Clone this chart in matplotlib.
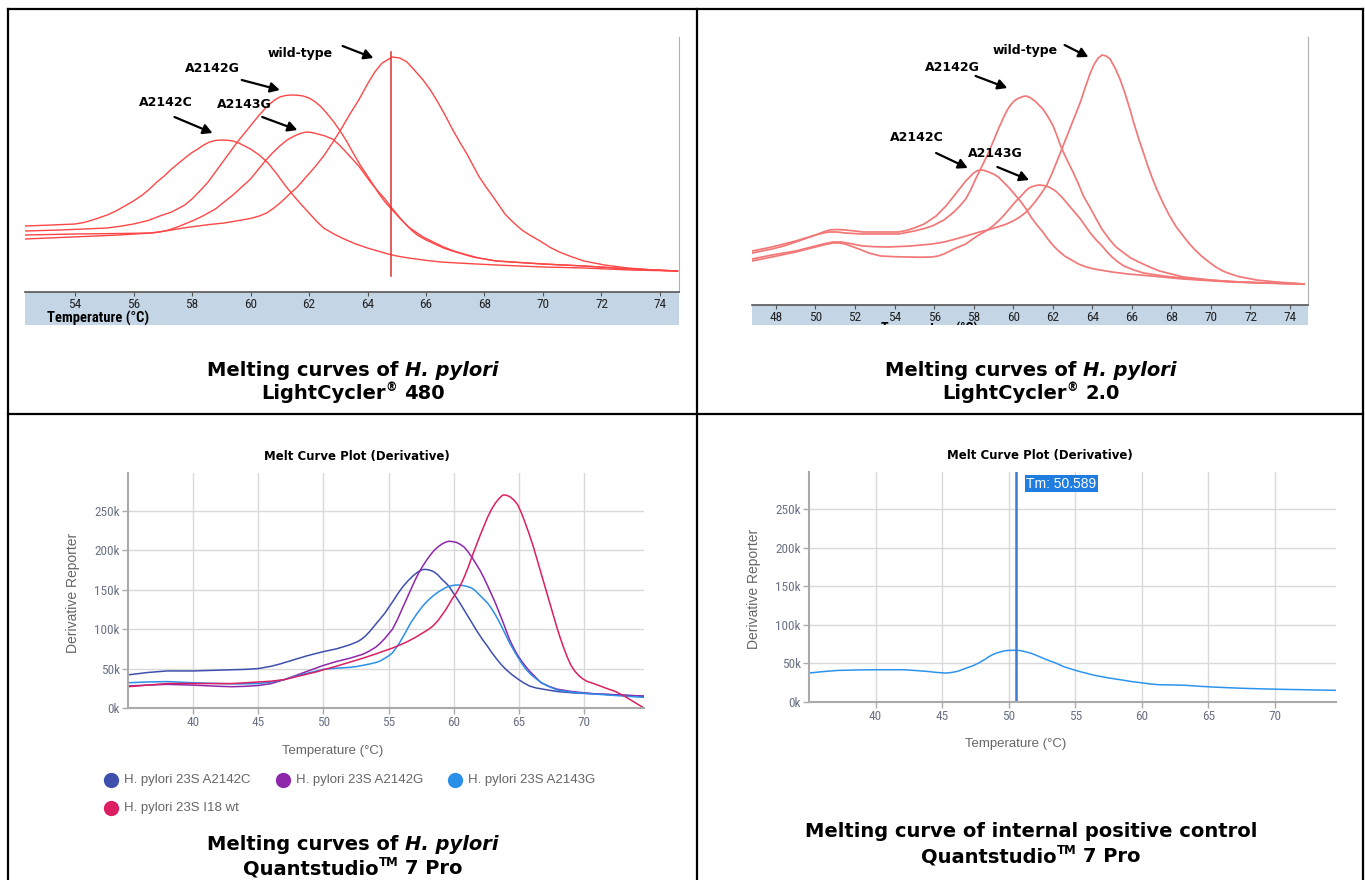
import matplotlib.pyplot as plt
from matplotlib.lines import Line2D
from matplotlib.ticker import FuncFormatter
import numpy as np

W, H = 1365, 880

# ---------------- LightCycler 480 (temperature degC, -dF/dT in arbitrary units)
lc480_ticks = [54, 56, 58, 60, 62, 64, 66, 68, 70, 72, 74]
lc480_wt = [(52.3, 53), (53.5, 54.5), (54.3, 55.5), (55.5, 57), (56.6, 59), (57.2, 61.5), (57.7, 64),
            (58.2, 66), (58.6, 67.5), (59.1, 69), (59.5, 71), (60.0, 73.5), (60.3, 76), (60.55, 79),
            (60.8, 84), (61.05, 90), (61.3, 97), (61.6, 105), (61.9, 115), (62.2, 125), (62.5, 136),
            (62.8, 149), (63.1, 163), (63.4, 178), (63.7, 192), (64.0, 208), (64.25, 220), (64.5, 229),
            (64.85, 235), (65.1, 234), (65.35, 230), (65.6, 222), (65.9, 212), (66.15, 202), (66.4, 190),
            (66.65, 177), (66.9, 163), (67.15, 150), (67.4, 138), (67.6, 127), (67.8, 116), (68.05, 105),
            (68.3, 95), (68.5, 86.5), (68.7, 78), (68.9, 72), (69.1, 66.5), (69.3, 61.5), (69.6, 56),
            (69.9, 51), (70.25, 44.5), (70.6, 39.5), (71.0, 35), (71.4, 31), (72.1, 27), (72.9, 24),
            (73.8, 22), (74.6, 21)]
lc480_a2142c = [(52.3, 66), (53.2, 67), (54.0, 68), (54.3, 69.5), (54.6, 72), (54.85, 74.5), (55.1, 77),
                (55.4, 81), (55.7, 86), (56.0, 91), (56.3, 97), (56.55, 103), (56.8, 110), (57.05, 116),
                (57.3, 123), (57.55, 129), (57.8, 135), (58.0, 139.5), (58.2, 143), (58.4, 147), (58.6, 150),
                (58.8, 151.5), (59.0, 152), (59.2, 151.8), (59.4, 151), (59.6, 149), (59.8, 146), (60.0, 143),
                (60.3, 137), (60.6, 129), (60.9, 118), (61.2, 106), (61.45, 97), (61.75, 87), (62.0, 79),
                (62.25, 71), (62.5, 64), (62.85, 58), (63.2, 53), (63.6, 48), (64.0, 44), (64.35, 41),
                (64.7, 38), (65.0, 36), (65.4, 34), (65.9, 32), (66.5, 30), (67.4, 28.5), (68.4, 27),
                (70.0, 25), (71.4, 24), (73.0, 22), (74.6, 21)]
lc480_a2142g = [(52.3, 61), (53.5, 62), (55.1, 64), (55.6, 66), (56.0, 68), (56.5, 71.5), (56.9, 76),
                (57.3, 80), (57.5, 83), (57.75, 87), (58.0, 93), (58.3, 102), (58.55, 110), (58.8, 120),
                (59.05, 130), (59.3, 140), (59.55, 150), (59.8, 159), (60.05, 168), (60.3, 177), (60.5, 183.5),
                (60.7, 189), (60.85, 192.5), (61.0, 195), (61.2, 196.5), (61.4, 197), (61.6, 196.8),
                (61.8, 196), (62.0, 194), (62.2, 190.5), (62.4, 185.5), (62.6, 179), (62.85, 170), (63.1, 159.5),
                (63.3, 150), (63.5, 139.5), (63.75, 127), (64.0, 116), (64.2, 107), (64.4, 98), (64.6, 90),
                (64.85, 82), (65.1, 74), (65.3, 68), (65.5, 62), (65.7, 57), (66.0, 52), (66.3, 48),
                (66.6, 44), (66.9, 41), (67.25, 38), (67.6, 35), (68.0, 33), (68.4, 31), (69.2, 29.5),
                (70.0, 28), (71.4, 26), (73.0, 23), (74.6, 21)]
lc480_a2143g = [(52.3, 57), (54.0, 58), (55.5, 58.5), (56.6, 59), (56.9, 60), (57.2, 62), (57.5, 65),
                (57.75, 68), (58.0, 71), (58.3, 75), (58.55, 79), (58.8, 83), (59.1, 90), (59.4, 97),
                (59.7, 105), (60.0, 113), (60.25, 122), (60.5, 131), (60.75, 139), (61.0, 146), (61.25, 152),
                (61.5, 156), (61.7, 158.5), (61.9, 160), (62.1, 159.5), (62.3, 158), (62.55, 156), (62.8, 153),
                (63.0, 148), (63.2, 142), (63.45, 134), (63.7, 126), (63.9, 118), (64.1, 110), (64.35, 101),
                (64.6, 93), (64.8, 85), (65.0, 78), (65.2, 71), (65.4, 65), (65.65, 60), (65.9, 55),
                (66.25, 50), (66.6, 45), (66.95, 41), (67.3, 38), (67.8, 34), (68.4, 31), (69.2, 29.5),
                (70.0, 28), (71.4, 26), (73.0, 23), (74.6, 21)]
lc480_tm = 64.8
# label, text pos, arrow tail, arrow head
lc480_labels = [("wild-type", (61.7, 238), (63.15, 246), (64.2, 234)),
                ("A2142G", (58.7, 224), (59.7, 212), (61.0, 202)),
                ("A2142C", (57.1, 190), (57.4, 175), (58.7, 159)),
                ("A2143G", (59.8, 187), (60.4, 175), (61.6, 162))]

# ---------------- LightCycler 2.0
lc20_ticks = [48, 50, 52, 54, 56, 58, 60, 62, 64, 66, 68, 70, 72, 74]
lc20_wt = [(46.8, 46), (47.8, 50), (49.0, 54), (49.5, 56.5), (50.0, 59), (50.5, 61.5), (50.9, 63), (51.3, 63),
           (51.6, 62), (52.0, 60.5), (52.4, 59), (53.0, 58.3), (53.7, 58), (54.8, 59), (55.9, 61), (56.5, 63),
           (57.1, 66), (57.7, 69.5), (58.3, 73), (58.8, 75.5), (59.2, 78), (59.6, 80.5), (60.0, 84),
           (60.3, 87.5), (60.6, 92), (60.85, 97), (61.1, 103), (61.4, 111), (61.7, 120), (61.95, 131),
           (62.2, 143), (62.5, 158), (62.8, 173), (63.1, 188), (63.4, 203), (63.65, 218), (63.9, 232),
           (64.1, 241), (64.3, 247), (64.5, 250), (64.7, 249), (64.9, 246), (65.15, 237), (65.4, 226),
           (65.65, 212), (65.9, 196), (66.1, 182), (66.35, 166), (66.6, 151.5), (66.8, 139.5), (67.05, 126),
           (67.3, 114), (67.6, 101), (67.9, 89.5), (68.25, 78), (68.6, 69), (68.9, 61.5), (69.2, 55),
           (69.55, 48.5), (69.9, 43), (70.25, 38), (70.6, 34), (71.0, 31), (71.4, 28.5), (72.3, 25),
           (73.3, 23), (74.7, 21)]
lc20_a2143g = [(46.8, 44), (47.8, 48), (49.0, 53), (49.5, 55.5), (50.0, 58), (50.5, 60.5), (50.9, 62),
               (51.2, 62), (51.5, 61), (51.85, 58.5), (52.2, 56), (52.7, 52), (53.3, 49), (54.0, 48.3),
               (54.6, 48), (55.3, 47.8), (55.9, 48), (56.2, 49), (56.5, 51), (56.75, 53.5), (57.0, 56),
               (57.3, 58.5), (57.6, 61), (57.85, 64.5), (58.1, 68), (58.4, 71.5), (58.7, 75), (59.0, 79.5),
               (59.25, 84), (59.5, 89), (59.8, 96), (60.1, 103), (60.4, 109), (60.6, 113.5), (60.8, 117),
               (61.05, 119), (61.3, 120), (61.55, 119.5), (61.8, 118), (62.0, 116), (62.2, 113), (62.5, 107),
               (62.8, 100), (63.1, 93), (63.4, 86), (63.65, 79), (63.9, 72), (64.2, 65), (64.5, 59),
               (64.75, 53), (65.0, 48), (65.3, 43), (65.6, 39), (66.1, 35), (66.6, 32), (67.6, 29),
               (69.0, 26), (70.5, 24), (72.5, 22), (74.7, 21)]
lc20_a2142c = [(46.8, 52), (47.8, 56), (48.4, 59), (49.0, 63), (49.5, 66.5), (50.0, 70), (50.4, 73),
               (50.7, 75), (51.1, 75.5), (51.5, 75), (52.0, 74), (52.4, 73), (53.3, 73), (54.2, 73),
               (54.6, 74.5), (55.0, 77), (55.25, 79), (55.5, 81), (55.8, 85), (56.1, 89), (56.35, 94),
               (56.6, 99), (56.8, 104), (57.0, 109), (57.2, 114), (57.4, 119), (57.6, 124), (57.8, 128),
               (58.0, 132), (58.2, 134.5), (58.45, 135), (58.7, 133.5), (59.0, 131), (59.25, 128),
               (59.5, 123), (59.8, 117), (60.1, 110), (60.4, 103), (60.65, 96), (60.9, 88), (61.2, 80),
               (61.5, 73), (61.75, 66), (62.0, 60), (62.3, 54), (62.6, 49), (62.95, 45), (63.3, 41),
               (63.7, 38), (64.1, 36), (65.0, 33), (65.8, 31), (67.0, 29), (68.6, 26), (71.0, 23), (74.7, 21)]
lc20_a2142g = [(46.8, 54), (47.8, 58), (48.4, 61), (49.0, 64), (49.5, 67), (50.0, 70), (50.4, 72),
               (50.7, 73), (51.1, 73), (51.5, 72), (52.4, 71), (53.3, 71), (54.2, 71), (54.6, 72.5),
               (55.0, 74), (55.5, 76.5), (55.9, 79), (56.2, 82), (56.5, 85), (56.75, 89), (57.0, 93),
               (57.3, 99), (57.6, 106), (57.85, 115), (58.1, 126), (58.4, 138), (58.7, 150), (59.0, 164),
               (59.25, 176), (59.5, 187), (59.7, 195), (59.85, 199.5), (60.0, 203), (60.15, 205.5),
               (60.3, 207), (60.5, 208.5), (60.65, 209), (60.85, 207.5), (61.1, 204), (61.3, 200),
               (61.5, 196), (61.75, 188.5), (62.0, 180), (62.2, 170), (62.4, 159), (62.7, 146), (63.0, 134),
               (63.3, 121), (63.55, 109), (63.9, 97), (64.2, 86), (64.5, 75.5), (64.85, 66), (65.2, 58),
               (65.6, 52), (65.95, 47), (66.35, 43), (66.9, 38), (67.4, 34), (68.0, 31), (68.6, 28),
               (70.0, 25), (71.4, 23), (73.0, 22), (74.7, 21)]
lc20_labels = [("wild-type", (60.6, 255), (62.6, 260), (63.8, 248)),
               ("A2142G", (56.9, 238), (58.1, 229), (59.7, 217)),
               ("A2142C", (55.15, 168), (56.1, 152), (57.7, 137)),
               ("A2143G", (59.1, 152), (59.2, 138), (60.8, 125))]

# ---------------- QuantStudio 7 Pro (temperature degC, derivative reporter in thousands)
qs_xticks = [40, 45, 50, 55, 60, 65, 70]
qs_yticks = [0, 50000, 100000, 150000, 200000, 250000]
qs_names = ["H. pylori 23S A2142C", "H. pylori 23S A2142G", "H. pylori 23S A2143G", "H. pylori 23S I18 wt"]
qs_colors = ["#3f4fae", "#8e27ab", "#2a8fe8", "#dc1f62"]
qs_a2142c = [(35, 42), (36.5, 45), (38, 47), (40, 47), (42, 48), (43, 48.5), (44, 49), (45, 50), (46, 53),
             (46.7, 56), (47.3, 59), (48.0, 62.5), (48.7, 66), (49.4, 69), (50, 71.5), (51, 75), (51.5, 77.5),
             (52.0, 80), (52.3, 82), (52.6, 84), (52.9, 87), (53.2, 91), (53.55, 97), (53.9, 104), (54.3, 112),
             (54.7, 120), (55.05, 128.5), (55.4, 137), (55.75, 146), (56.1, 154), (56.5, 161.5), (56.9, 168),
             (57.25, 172.5), (57.6, 175.5), (57.85, 175.8), (58.1, 175), (58.3, 174), (58.5, 172.5),
             (58.8, 168.5), (59.1, 163), (59.4, 158.5), (59.65, 154), (60.0, 145), (60.4, 135),
             (60.75, 125.5), (61.1, 116), (61.45, 106.5), (61.8, 97), (62.2, 87), (62.6, 78), (62.95, 69.5),
             (63.3, 62), (63.65, 55), (64.0, 49), (64.45, 42.5), (64.9, 37), (65.35, 32), (65.8, 28),
             (66.3, 25.5), (66.8, 24), (67.9, 21), (69.3, 19), (70.8, 18), (72.7, 16.5), (74.6, 15)]
qs_a2142g = [(35, 28), (36.5, 29), (38, 30), (40, 29), (42, 27.5), (43, 27), (44, 27.5), (45, 28.5), (46, 31),
             (46.5, 33.5), (47, 36), (47.5, 39), (48, 42), (48.5, 45), (49, 48), (49.5, 51), (50, 54), (51, 59),
             (52, 63), (52.5, 65.5), (53, 68), (53.5, 72), (54.0, 77), (54.35, 82), (54.7, 88), (55.0, 94),
             (55.3, 100), (55.7, 113), (56.1, 128), (56.4, 139), (56.7, 150), (57.0, 161), (57.3, 171),
             (57.6, 179.5), (57.9, 187), (58.2, 194), (58.5, 200), (58.8, 204.5), (59.1, 208), (59.4, 210.5),
             (59.65, 211.5), (59.9, 211), (60.2, 210), (60.5, 207.5), (60.8, 204), (61.1, 198), (61.4, 191),
             (61.7, 183), (62.0, 175), (62.3, 165.5), (62.6, 155), (62.9, 144), (63.2, 133), (63.5, 120.5),
             (63.8, 108), (64.05, 97), (64.3, 86), (64.6, 76), (64.9, 67), (65.2, 59.5), (65.5, 53),
             (65.8, 47), (66.1, 42), (66.4, 37), (66.7, 32), (67.3, 27.5), (67.9, 24), (69.0, 21),
             (70.8, 18), (72.7, 16.5), (74.6, 15)]
qs_a2143g = [(35, 32), (36.5, 33), (38, 33.5), (40, 32), (42, 31), (43.5, 30.5), (45, 31), (46, 33),
             (46.5, 34.5), (47, 36), (47.5, 38.5), (48, 41), (48.5, 43), (49, 45), (49.5, 47), (50, 49),
             (51, 50.5), (52, 51.5), (52.5, 52.5), (53, 54), (53.6, 56), (54.1, 58), (54.4, 60), (54.7, 63),
             (55.0, 66), (55.3, 70), (55.7, 79), (56.1, 90), (56.4, 99), (56.7, 108), (57.15, 119),
             (57.6, 129), (58.0, 136), (58.4, 142), (58.75, 146.5), (59.1, 150), (59.35, 152.5), (59.6, 154),
             (59.9, 155.3), (60.2, 156), (60.5, 155.8), (60.8, 155), (61.1, 153.8), (61.4, 152), (61.7, 148),
             (62.0, 143), (62.3, 138), (62.6, 133), (62.9, 126), (63.2, 118), (63.5, 109), (63.8, 99),
             (64.05, 90.5), (64.3, 82), (64.6, 73.5), (64.9, 65), (65.2, 57), (65.5, 50), (65.95, 42),
             (66.4, 36), (66.8, 31.5), (67.2, 28), (67.9, 23), (69.0, 20), (70.8, 17.7), (72.7, 15.5),
             (74.6, 13.5)]
qs_wt = [(35, 27), (36.5, 29), (38, 31), (40, 31), (42, 31), (43, 31), (44, 32), (45, 33), (46, 34), (47, 36),
         (47.5, 38), (48, 40), (48.5, 42), (49, 44), (49.5, 46), (50, 48.5), (51, 53), (52, 58), (53, 63),
         (54, 68.5), (54.6, 72), (55.3, 76), (55.8, 79.5), (56.3, 83), (57.0, 89), (57.6, 95), (58.0, 99),
         (58.4, 104), (58.75, 110), (59.1, 118), (59.4, 125), (59.65, 132), (59.9, 139), (60.2, 146),
         (60.5, 155), (60.8, 166), (61.1, 178), (61.4, 192), (61.7, 205), (62.0, 218), (62.3, 230),
         (62.6, 242), (62.9, 252), (63.2, 260), (63.5, 266), (63.75, 270), (64.0, 270), (64.3, 268),
         (64.6, 264), (64.9, 258), (65.2, 247), (65.5, 234), (65.8, 220), (66.1, 205), (66.4, 188),
         (66.7, 171), (67.0, 154), (67.3, 137), (67.6, 120), (67.9, 103), (68.15, 90), (68.4, 78),
         (68.7, 65), (69.0, 54), (69.3, 46.5), (69.6, 41), (69.9, 37), (70.2, 34), (70.55, 32), (70.9, 30),
         (71.3, 27.5), (71.7, 25), (72.05, 23), (72.4, 21), (72.75, 18), (73.1, 15), (73.45, 11.5),
         (73.8, 8), (74.2, 4), (74.6, 0)]
ipc_curve = [(35.0, 37.5), (36.0, 39.3), (37.15, 40.9), (38.6, 41.5), (40.06, 41.8), (42.09, 41.8),
             (43.0, 40.8), (43.84, 39.7), (44.6, 38.3), (45.29, 37.5), (45.7, 38.2), (46.16, 39.7),
             (46.6, 42.5), (47.0, 45), (47.33, 47), (47.8, 51), (48.2, 55), (48.5, 58.5), (48.78, 61.2),
             (49.1, 63.5), (49.4, 65), (49.7, 66.3), (49.94, 66.8), (50.4, 67), (50.81, 66.8), (51.1, 65.8),
             (51.4, 64.5), (51.7, 63), (51.98, 61.2), (52.35, 58.5), (52.7, 56), (53.05, 53.5), (53.43, 51.3),
             (53.8, 48.5), (54.1, 46), (54.5, 43.8), (54.88, 41.8), (55.3, 39.6), (55.8, 37.5), (56.2, 35.6),
             (56.63, 34), (57.5, 31.2), (58.37, 28.9), (59.2, 26.6), (60.12, 24.6), (60.7, 23.3),
             (61.28, 22.4), (62.3, 22.1), (63.31, 21.6), (64.3, 20.4), (65.35, 19.4), (66.5, 18.5),
             (67.67, 17.7), (69.1, 17), (70.58, 16.4), (72.5, 15.8), (74.56, 15.1)]
ipc_tm = 50.589

fig = plt.figure(figsize=(W / 100, H / 100), dpi=100)
fig.patch.set_facecolor("white")
NARROW = ["Liberation Sans Narrow", "Roboto Condensed", "Liberation Sans"]
SANS = ["Liberation Sans", "DejaVu Sans"]


def px_box(x0, y0, x1, y1):
    return [x0 / W, 1 - y1 / H, (x1 - x0) / W, (y1 - y0) / H]


def fxy(x, y):
    return x / W, 1 - y / H


def lightcycler_panel(x0, x1, y_top, y_axis, y_band, xlim, ylim, ticks, curves, color, lw, labels, tm=None):
    band = fig.add_axes(px_box(x0, y_axis, x1, y_band))
    band.set_facecolor("#c4d5e6")
    band.set_xticks([])
    band.set_yticks([])
    for s in band.spines.values():
        s.set_visible(False)

    ax = fig.add_axes(px_box(x0, y_top, x1, y_axis))
    ax.patch.set_alpha(0)
    for c in curves:
        c = np.array(c)
        ax.plot(c[:, 0], c[:, 1], color=color, lw=lw, solid_joinstyle="round")
    if tm is not None:
        ax.plot([tm, tm], [16, 240], color="#e03030", lw=1.1)
    ax.set_xlim(xlim)
    ax.set_ylim(ylim)
    ax.set_xticks(ticks)
    ax.set_yticks([])
    ax.spines["left"].set_visible(False)
    ax.spines["top"].set_visible(False)
    ax.spines["bottom"].set_color("#555555")
    ax.spines["bottom"].set_linewidth(1.2)
    ax.spines["right"].set_color("#b0b0b0")
    ax.spines["right"].set_linewidth(0.8)
    ax.tick_params(axis="x", length=3, width=0.8, color="#555555", labelsize=9.5, pad=1)
    for lab in ax.get_xticklabels():
        lab.set_family(NARROW)
        lab.set_color("#222222")
    for name, txt, tail, head in labels:
        ax.text(txt[0], txt[1], name, ha="center", va="center", fontsize=9, fontweight="bold",
                family="DejaVu Sans")
        ax.annotate("", xy=head, xytext=tail,
                    arrowprops=dict(arrowstyle="-|>,head_length=0.55,head_width=0.3", color="black",
                                    lw=1.6, shrinkA=0, shrinkB=0))
    return ax, band


def quantstudio_panel(x0, x1, y_top, y_axis, title_x, title_y, ylab_x, xlab_xy):
    ax = fig.add_axes(px_box(x0, y_top, x1, y_axis))
    ax.set_xlim(35, 74.6)
    ax.set_ylim(0, 298000)
    ax.set_xticks(qs_xticks)
    ax.set_yticks(qs_yticks)
    ax.yaxis.set_major_formatter(FuncFormatter(lambda v, p: f"{int(v / 1000)}k"))
    ax.grid(color="#d9d9d9", lw=1)
    ax.set_axisbelow(True)
    for side in ["top", "right"]:
        ax.spines[side].set_visible(False)
    for side in ["left", "bottom"]:
        ax.spines[side].set_color("#aaaaaa")
        ax.spines[side].set_linewidth(1.5)
    ax.tick_params(length=4, width=1, color="#aaaaaa", labelcolor="#6b7285", labelsize=9.5, pad=2)
    for lab in ax.get_xticklabels() + ax.get_yticklabels():
        lab.set_family(NARROW)
    fig.text(*fxy(title_x, title_y), "Melt Curve Plot (Derivative)", ha="center", va="center",
             fontsize=8.5, fontweight="bold", family="DejaVu Sans")
    fig.text(*fxy(ylab_x, (y_top + y_axis) / 2 + 2), "Derivative Reporter", rotation=90, ha="center",
             va="center", fontsize=10, color="#666666", family=SANS)
    fig.text(*fxy(*xlab_xy), "Temperature (°C)", ha="center", va="center", fontsize=9.5,
             color="#666666", family=SANS)
    return ax


def rich_line(xc, y_base, runs, size=14):
    # runs: (text, italic, superscript, space_after)
    r = fig.canvas.get_renderer()
    px = size * 100 / 72
    objs = []
    for s, ital, sup, gap in runs:
        t = fig.text(0, 0, s, fontsize=size * (0.6 if sup else 1), fontweight="bold",
                     fontstyle="oblique" if ital else "normal", family="DejaVu Sans", va="baseline")
        objs.append((t, sup, gap))
    widths = [t.get_window_extent(r).width + (0.348 * px if gap else 0) for t, _, gap in objs]
    x = xc - sum(widths) / 2
    for (t, sup, gap), w in zip(objs, widths):
        t.set_position(fxy(x, y_base - (0.42 * px if sup else 0)))
        x += w


# ---- top left
lightcycler_panel(25, 679, 37, 292, 325, (52.29, 74.65), (0, 255), lc480_ticks,
                  [lc480_wt, lc480_a2142c, lc480_a2142g, lc480_a2143g], "#ff4646", 1.0, lc480_labels, lc480_tm)
fig.text(*fxy(47, 318), "Temperature (°C)", ha="left", va="center", fontsize=10.5, fontweight="bold",
         family=NARROW)

# ---- top right
ax2, band2 = lightcycler_panel(752, 1308, 37, 305, 325, (46.79, 74.91), (0, 268), lc20_ticks,
                               [lc20_wt, lc20_a2143g, lc20_a2142c, lc20_a2142g], "#f27878", 1.25, lc20_labels)
band2.text(0.32, 0.16, "Temperature (°C)", transform=band2.transAxes, ha="center", va="top", fontsize=10,
           fontweight="bold", family=NARROW, clip_on=True)

# ---- bottom left
ax3 = quantstudio_panel(128, 644, 473, 708, 357, 456, 73, (333, 751))
for data, col in zip([qs_a2142c, qs_a2142g, qs_a2143g, qs_wt], qs_colors):
    d = np.array(data)
    ax3.plot(d[:, 0], d[:, 1] * 1000, color=col, lw=1.1, solid_joinstyle="round")
legend_pos = [(111, 780), (283, 780), (455, 780), (111, 808)]
for name, col, (lx, ly) in zip(qs_names, qs_colors, legend_pos):
    fig.add_artist(Line2D([lx / W], [1 - ly / H], marker="o", ms=10, color=col, lw=0,
                          transform=fig.transFigure))
    fig.text(*fxy(lx + 13, ly), name, ha="left", va="center", fontsize=9.5, color="#666666", family=SANS)

# ---- bottom right
ax4 = quantstudio_panel(809, 1336, 472, 702, 1040, 455, 754, (1016, 744))
d = np.array(ipc_curve)
ax4.plot(d[:, 0], d[:, 1] * 1000, color="#2d94ee", lw=1.1, solid_joinstyle="round")
ax4.axvline(ipc_tm, color="#3d7bd8", lw=1.8)
ax4.text(ipc_tm + 0.75, 283000, f"Tm: {ipc_tm}", color="white", fontsize=10, va="center", ha="left",
         family=SANS, bbox=dict(boxstyle="square,pad=0.12", fc="#1f7de0", ec="none"))

# ---- captions
rich_line(353, 376, [("Melting curves of", False, False, True), ("H. pylori", True, False, False)])
rich_line(353, 399, [("LightCycler", False, False, False), ("®", False, True, True), ("480", False, False, False)])
rich_line(1031, 376, [("Melting curves of", False, False, True), ("H. pylori", True, False, False)])
rich_line(1031, 399, [("LightCycler", False, False, False), ("®", False, True, True), ("2.0", False, False, False)])
rich_line(353, 850, [("Melting curves of", False, False, True), ("H. pylori", True, False, False)])
rich_line(353, 874, [("Quantstudio", False, False, False), ("TM", False, True, True), ("7 Pro", False, False, False)])
rich_line(1031, 837, [("Melting curve of internal positive control", False, False, False)])
rich_line(1031, 862, [("Quantstudio", False, False, False), ("TM", False, True, True), ("7 Pro", False, False, False)])

# ---- table grid
for (x0, y0, x1, y1) in [(8, 9, 1363, 9), (8, 9, 8, 880), (1363, 9, 1363, 880), (697, 9, 697, 880),
                         (8, 414, 1363, 414)]:
    fig.add_artist(Line2D([x0 / W, x1 / W], [1 - y0 / H, 1 - y1 / H], color="black", lw=1.6,
                          transform=fig.transFigure))

fig.savefig("out.png", dpi=100, facecolor="white")
